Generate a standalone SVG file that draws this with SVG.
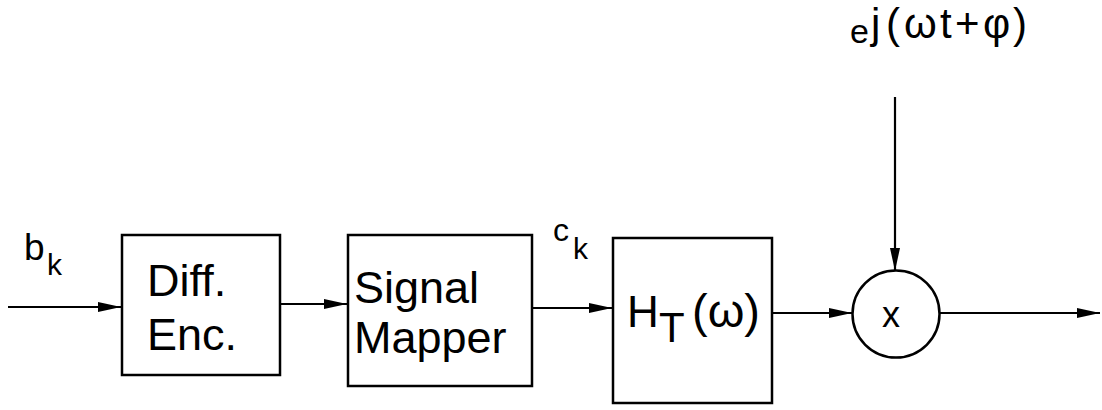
<svg xmlns="http://www.w3.org/2000/svg" width="1102" height="410" viewBox="0 0 1102 410">
<style>
.box{fill:#fff;stroke:#000;stroke-width:2.5}
.wire{fill:none;stroke:#000;stroke-width:2.2}
.t{font-family:"Liberation Sans",Arial,sans-serif;fill:#000}
</style>
<defs>
<marker id="ah" markerUnits="userSpaceOnUse" markerWidth="24" markerHeight="12" refX="23" refY="5.5" orient="auto">
<path d="M0,0.5 L23,5.5 L0,10.5 Z" fill="#000"/>
</marker>
</defs>
<rect width="1102" height="410" fill="#fff"/>
<g id="connectors">
<line class="wire" x1="8" y1="307" x2="121" y2="307" marker-end="url(#ah)"/>
<line class="wire" x1="280" y1="304" x2="347" y2="304" marker-end="url(#ah)"/>
<line class="wire" x1="532" y1="308" x2="612" y2="308" marker-end="url(#ah)"/>
<line class="wire" x1="772" y1="313" x2="852" y2="313" marker-end="url(#ah)"/>
<line class="wire" x1="940" y1="313" x2="1100" y2="313" marker-end="url(#ah)"/>
<line class="wire" x1="895" y1="97" x2="895" y2="271" marker-end="url(#ah)"/>
</g>
<g id="label-bk">
<text class="t" x="24" y="260" font-size="37">b</text>
<text class="t" x="47" y="275" font-size="30">k</text>
</g>
<g id="label-ck">
<text class="t" x="553" y="241" font-size="32">c</text>
<text class="t" x="573" y="259" font-size="30">k</text>
</g>
<g id="diff-enc">
<rect class="box" x="122" y="235" width="158" height="140"/>
<text class="t" x="147" y="296" font-size="45">Diff.</text>
<text class="t" x="147" y="350" font-size="45">Enc.</text>
</g>
<g id="signal-mapper">
<rect class="box" x="348" y="235" width="184" height="151"/>
<text class="t" x="354" y="303" font-size="45">Signal</text>
<text class="t" x="354" y="353" font-size="45">Mapper</text>
</g>
<g id="ht">
<rect class="box" x="613" y="238" width="159" height="165"/>
<text class="t" x="627" y="327" font-size="44">H</text>
<text class="t" x="659" y="342" font-size="42">T</text>
<text class="t" x="692" y="327" font-size="47">(ω)</text>
</g>
<g id="mixer">
<circle cx="896" cy="314" r="43.5" fill="#fff" stroke="#000" stroke-width="2.5"/>
<text class="t" x="891" y="327" font-size="36" text-anchor="middle">x</text>
</g>
<g id="label-carrier">
<text class="t" x="850" y="43" font-size="34">e</text>
<text class="t" x="871 886 904 940 955 983 1013" y="38" font-size="42">j(ωt+φ)</text>
</g>
</svg>
